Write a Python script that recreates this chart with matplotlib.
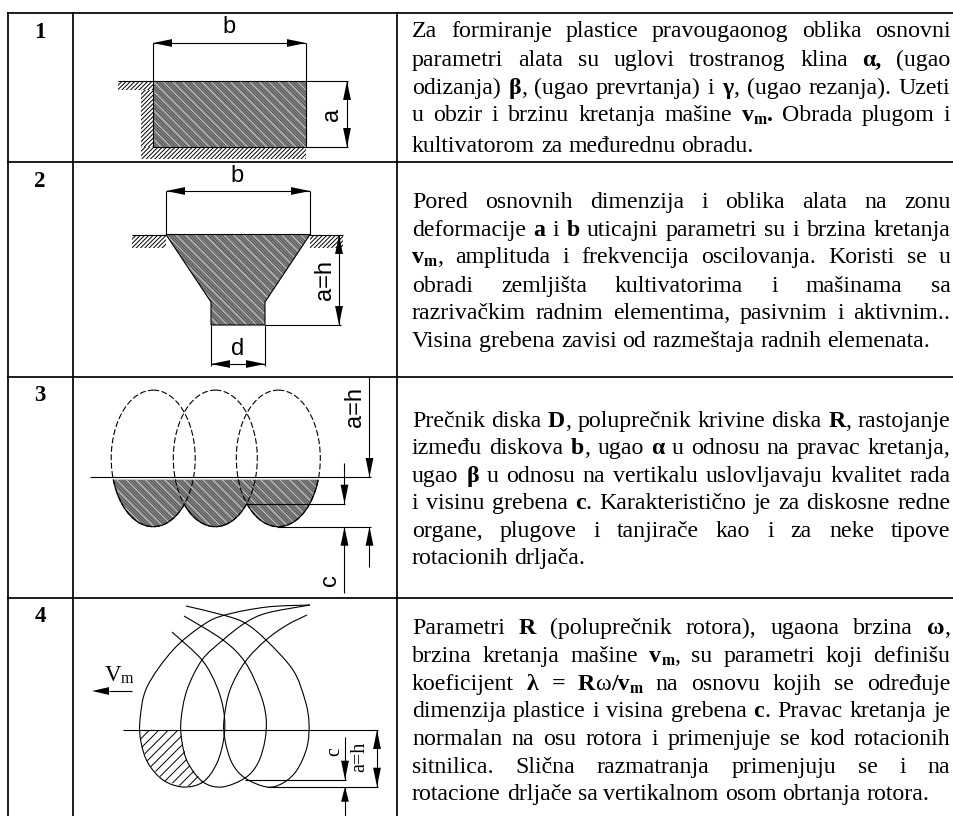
# Table of soil cutting schemes, drawn in pixel coordinates
import numpy as np
import matplotlib
matplotlib.use("Agg")
import matplotlib.pyplot as plt
from matplotlib.patches import Polygon, Ellipse, PathPatch
from matplotlib.path import Path

# Table text
row_numbers = ["1", "2", "3", "4"]
row1_lines = [
    "Za formiranje plastice pravougaonog oblika osnovni",
    "parametri alata su uglovi trostranog klina *α,* (ugao",
    "odizanja) *β*, (ugao prevrtanja) i *γ*, (ugao rezanja). Uzeti",
    "u obzir i brzinu kretanja mašine *v*~m~*.* Obrada plugom i",
    "kultivatorom za međurednu obradu.",
]
row2_lines = [
    "Pored osnovnih dimenzija i oblika alata na zonu",
    "deformacije *a* i *b* uticajni parametri su i brzina kretanja",
    "*v*~m~, amplituda i frekvencija oscilovanja. Koristi se u",
    "obradi zemljišta kultivatorima i mašinama sa",
    "razrivačkim radnim elementima, pasivnim i aktivnim..",
    "Visina grebena zavisi od razmeštaja radnih elemenata.",
]
row3_lines = [
    "Prečnik diska *D*, poluprečnik krivine diska *R*, rastojanje",
    "između diskova *b*, ugao *α* u odnosu na pravac kretanja,",
    "ugao *β* u odnosu na vertikalu uslovljavaju kvalitet rada",
    "i visinu grebena *c*. Karakteristično je za diskosne redne",
    "organe, plugove i tanjirače kao i za neke tipove",
    "rotacionih drljača.",
]
row4_lines = [
    "Parametri *R* (poluprečnik rotora), ugaona brzina *ω*,",
    "brzina kretanja mašine *v*~m~, su parametri koji definišu",
    "koeficijent *λ = R*ω*/v*~m~ na osnovu kojih se određuje",
    "dimenzija plastice i visina grebena *c*. Pravac kretanja je",
    "normalan na osu rotora i primenjuje se kod rotacionih",
    "sitnilica. Slična razmatranja primenjuju se i na",
    "rotacione drljače sa vertikalnom osom obrtanja rotora.",
]
row_baselines = [
    [37, 66, 94, 121, 152],
    [208, 236, 263, 292, 319, 347],
    [427, 454, 482, 509, 537, 564],
    [634, 662, 690, 717, 745, 773, 800],
]
number_baselines = [38, 187, 401, 622]

# Table grid
grid_columns = [8, 72.7, 397.4]
grid_rows = [13, 161.7, 377, 597.7]

# Outlines of the sections
rect_section = [(153, 80.5), (306, 80.5), (306, 147), (153, 147)]
trapezoid_section = [(166, 234.5), (310, 234.5), (265, 302), (265, 325), (211, 325), (211, 302)]
disk_centers = [153.2, 215.3, 278.3]
disk_center_y = 458.4
disk_width = 84
disk_height = 136.6

# Rotor loops
loop1 = [(172, 632), (202, 660), (217, 687), (224, 713), (224, 737), (217, 763), (203, 782),
         (183, 787), (163, 780), (148, 763), (141, 742), (140, 720), (147, 687), (173, 650),
         (203, 625), (225, 615), (267, 607), (310, 605)]
loop2 = [(184, 616), (223, 640), (245, 662), (260, 693), (266, 717), (265, 740), (258, 763),
         (245, 778), (222, 787), (203, 782), (188, 763), (182, 742), (181, 720), (187, 690),
         (202, 660), (223, 640), (245, 623), (267, 613), (310, 605)]
loop3 = [(186, 606), (223, 615), (245, 623), (266, 640), (293, 670), (305, 700), (309, 723),
         (307, 747), (297, 770), (283, 783), (267, 787), (245, 778), (232, 763), (225, 740),
         (224, 720), (230, 690), (245, 662), (266, 640), (287, 625), (307, 615)]
loop_hatch = [(140, 730), (141, 745), (148, 763), (163, 780), (183, 787), (195, 785), (203, 782),
              (188, 763), (183, 745), (181, 730)]

fig = plt.figure(figsize=(9.54, 8.16), dpi=100)
ax = fig.add_axes([0, 0, 1, 1])
ax.set_xlim(0, 954)
ax.set_ylim(816, 0)
ax.axis("off")
renderer = fig.canvas.get_renderer()

SERIF = "Liberation Serif"
SANS = "Liberation Sans"
TEXT_PT = 17.2
THIN = 0.8


def line(xs, ys, lw=THIN, **kw):
    return ax.plot(xs, ys, color="black", lw=lw, solid_capstyle="butt", **kw)[0]


def arrow(x, y, dx, dy, length=19, half=3.9):
    # tip at x, y; the tail lies in direction dx, dy
    tail = (x + dx * length, y + dy * length)
    side = (dy * half, dx * half)
    ax.add_patch(Polygon([(x, y), (tail[0] + side[0], tail[1] + side[1]),
                          (tail[0] - side[0], tail[1] - side[1])],
                         closed=True, fc="black", ec="none", zorder=4))


def hatch_lines(patch, step, slope, color="black", lw=0.7, offset=0):
    # slope 1 runs like a backslash on screen, -1 like a slash
    ext = patch.get_path().transformed(patch.get_patch_transform()).get_extents()
    x0, x1 = ext.x0, ext.x1
    if slope > 0:
        lo, hi = ext.y0 - x1, ext.y1 - x0
    else:
        lo, hi = ext.y0 + x0, ext.y1 + x1
    for c in np.arange(lo + offset, hi + step, step):
        l = ax.plot([x0, x1], [slope * x0 + c, slope * x1 + c], color=color, lw=lw, zorder=2.5)[0]
        l.set_clip_path(patch)


def section(patch, face="#8e8e8e"):
    patch.set(fc=face, ec="none", zorder=2)
    ax.add_patch(patch)
    hatch_lines(patch, 2.85, 1, color="#484848", lw=0.6)
    hatch_lines(patch, 9.6, 1, color="#c0c0c0", lw=0.8)


def ground(points):
    p = Polygon(points, closed=True, fc="none", ec="none")
    ax.add_patch(p)
    hatch_lines(p, 4.3, -1, lw=0.7)


def sans_label(x, y, s, rotation=0, size=17):
    ax.text(x, y, s, family=SANS, fontsize=size, rotation=rotation, ha="center", va="center", color="black")


def smooth_curve(points):
    # Catmull-Rom through the read points, as cubic Beziers
    pts = np.array(points, dtype=float)
    verts = [pts[0]]
    codes = [Path.MOVETO]
    for i in range(len(pts) - 1):
        p0 = pts[max(i - 1, 0)]
        p1 = pts[i]
        p2 = pts[i + 1]
        p3 = pts[min(i + 2, len(pts) - 1)]
        verts += [p1 + (p2 - p0) / 6, p2 - (p3 - p1) / 6, p2]
        codes += [Path.CURVE4] * 3
    return Path(verts, codes)


def parse_words(text):
    words = []
    bold = False
    sub = False
    current = []
    buf = ""
    for ch in text:
        if ch in "*~ " and buf:
            current.append((buf, bold, sub))
            buf = ""
        if ch == "*":
            bold = not bold
        elif ch == "~":
            sub = not sub
        elif ch == " ":
            words.append(current)
            current = []
        else:
            buf += ch
    if buf:
        current.append((buf, bold, sub))
    words.append(current)
    return words


def make_run(x, y, run):
    s, bold, sub = run
    size = TEXT_PT * 0.66 if sub else TEXT_PT
    weight = "bold" if (bold or sub) else "normal"
    return ax.text(x, y + (3 if sub else 0), s, family=SERIF, fontsize=size, weight=weight,
                   ha="left", va="baseline", color="black")


def run_width(run):
    t = make_run(0, 0, run)
    w = t.get_window_extent(renderer).width
    t.remove()
    return w


def draw_text_line(text, y, left, right, justify):
    words = parse_words(text)
    widths = [sum(run_width(r) for r in w) for w in words]
    space = TEXT_PT / 0.72 * 0.25
    if justify and len(words) > 1:
        space = (right - left - sum(widths)) / (len(words) - 1)
    x = left
    for word, width in zip(words, widths):
        rx = x
        for r in word:
            make_run(rx, y, r)
            rx += run_width(r)
        x += width + space


# Grid
for x in grid_columns:
    line([x, x], [grid_rows[0] - 0.8, 816], lw=1.25)
for y in grid_rows:
    line([grid_columns[0] - 0.8, 954], [y, y], lw=1.25)

# Row numbers and paragraphs
for n, y in zip(row_numbers, number_baselines):
    ax.text(40, y, n, family=SERIF, fontsize=16.5, weight="bold", ha="center", va="baseline")
for lines, baselines in zip([row1_lines, row2_lines, row3_lines, row4_lines], row_baselines):
    for i, (text, y) in enumerate(zip(lines, baselines)):
        draw_text_line(text, y, 412, 950.5, i < len(lines) - 1)

# Scheme 1
section(Polygon(rect_section, closed=True))
ax.add_patch(Polygon(rect_section, closed=True, fc="none", ec="black", lw=THIN, zorder=3))
line([118, 153], [80.5, 80.5])
ground([(118, 81), (153, 81), (153, 90), (118, 90)])
ground([(141, 90), (153, 90), (153, 147), (141, 147)])
ground([(141, 147), (306, 147), (306, 158.5), (141, 158.5)])
line([153, 153], [43, 81])
line([306, 306], [43, 81])
line([153, 306], [43, 43])
arrow(153, 43, 1, 0)
arrow(306, 43, -1, 0)
line([306, 348], [80.5, 80.5])
line([306, 348], [147, 147])
line([347, 347], [81, 147])
arrow(347, 81, 0, 1)
arrow(347, 147, 0, -1)
sans_label(229, 27, "b")
sans_label(332, 114, "a", rotation=90)

# Scheme 2
section(Polygon(trapezoid_section, closed=True))
ax.add_patch(Polygon(trapezoid_section, closed=True, fc="none", ec="black", lw=THIN, zorder=3))
line([132, 166], [234.5, 234.5])
line([310, 343], [234.5, 234.5])
ground([(132, 235), (166, 235), (166, 248), (132, 248)])
ground([(310, 235), (343, 235), (343, 248), (310, 248)])
line([166, 166], [191, 234.5])
line([310, 310], [191, 234.5])
line([166, 310], [191, 191])
arrow(166, 191, 1, 0)
arrow(310, 191, -1, 0)
sans_label(237, 176, "b")
line([339, 339], [235, 325])
arrow(339, 235, 0, 1)
arrow(339, 325, 0, -1)
line([265, 341], [325, 325])
sans_label(325, 280, "a=h", rotation=90)
line([211, 211], [325, 366])
line([265, 265], [325, 366])
line([211, 265], [364, 364])
arrow(211, 364, 1, 0)
arrow(265, 364, -1, 0)
sans_label(238, 349, "d")

# Scheme 3
horizon = 477
xs = np.linspace(disk_centers[0] - disk_width / 2, disk_centers[-1] + disk_width / 2, 400)
env = np.full(xs.shape, float(horizon))
for c in disk_centers:
    inside = np.abs(xs - c) < disk_width / 2
    env[inside] = np.maximum(env[inside], disk_center_y + disk_height / 2 * np.sqrt(1 - ((xs[inside] - c) / (disk_width / 2)) ** 2))
cut = env > horizon
section(Polygon(list(zip(xs[cut], env[cut])), closed=True))
line(xs[cut], env[cut], zorder=3)
for c in disk_centers:
    ax.add_patch(Ellipse((c, disk_center_y), disk_width, disk_height, fc="none", ec="black", lw=THIN,
                         ls=(0, (5.4, 2.2)), zorder=3))
line([90, 371], [horizon, horizon], zorder=3)
line([247, 345], [503.7, 503.7], zorder=3)
line([277, 371], [526.7, 526.7], zorder=3)
line([344.5, 344.5], [463, 503.7])
arrow(344.5, 503.7, 0, -1)
line([344.5, 344.5], [526.7, 593])
arrow(344.5, 526.7, 0, 1)
line([369.5, 369.5], [377, 477])
arrow(369.5, 477, 0, -1)
line([369.5, 369.5], [526.7, 567])
arrow(369.5, 526.7, 0, 1)
sans_label(355, 407, "a=h", rotation=90)
sans_label(330, 580, "c", rotation=90)

# Scheme 4
hatch_patch = Polygon(loop_hatch, closed=True, fc="none", ec="none")
ax.add_patch(hatch_patch)
hatch_lines(hatch_patch, 9.5, -1, lw=0.7)
for loop in [loop1, loop2, loop3]:
    ax.add_patch(PathPatch(smooth_curve(loop), fc="none", ec="black", lw=THIN, zorder=3))
line([123, 378], [730, 730], zorder=3)
line([245, 346], [779.7, 779.7], zorder=3)
line([267, 378], [786.7, 786.7], zorder=3)
line([377, 377], [730, 786.7])
arrow(377, 730, 0, 1)
arrow(377, 786.7, 0, -1)
line([345, 345], [737, 779.7])
arrow(345, 779.7, 0, -1)
line([345, 345], [786.7, 816])
arrow(345, 786.7, 0, 1, length=15)
line([109, 132], [691, 691])
arrow(92, 691, 1, 0, length=17)
ax.text(104.5, 680.7, "V", family=SERIF, fontsize=16.5, ha="left", va="baseline")
ax.text(121, 683, "m", family=SERIF, fontsize=11.5, ha="left", va="baseline")
ax.text(335, 752, "c", family=SERIF, fontsize=14.5, rotation=90, ha="center", va="center")
ax.text(360, 757, "a=h", family=SERIF, fontsize=14.5, rotation=90, ha="center", va="center")

fig.savefig("out.png", dpi=100)
